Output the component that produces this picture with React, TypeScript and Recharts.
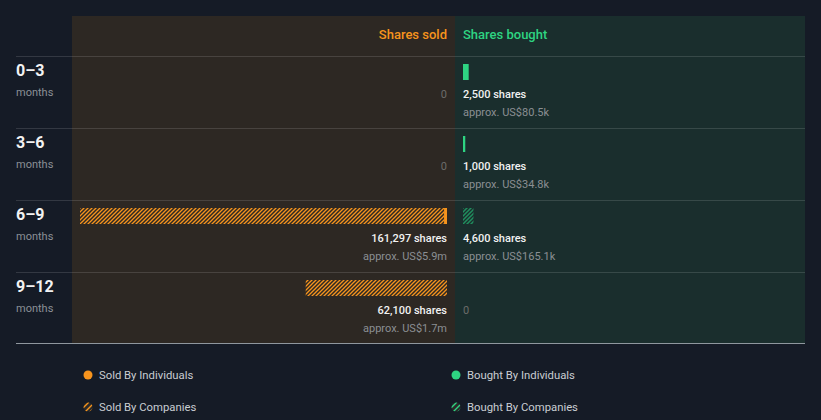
import React from "react";
import { BarChart, Bar, XAxis, YAxis } from "recharts";

const periods = ["0–3", "3–6", "6–9", "9–12"];
const soldIndividuals = [0, 0, 1297, 0];
const soldCompanies = [0, 0, 160000, 62100];
const boughtIndividuals = [2500, 1000, 0, 0];
const boughtCompanies = [0, 0, 4600, 0];
const soldValues = ["", "", "approx. US$5.9m", "approx. US$1.7m"];
const boughtValues = ["approx. US$80.5k", "approx. US$34.8k", "approx. US$165.1k", ""];

const soldData = periods.map((p, i) => ({ period: p, ind: soldIndividuals[i], comp: soldCompanies[i] }));
const boughtData = periods.map((p, i) => ({ period: p, ind: boughtIndividuals[i], comp: boughtCompanies[i] }));
const soldTotals = periods.map((_, i) => soldIndividuals[i] + soldCompanies[i]);
const boughtTotals = periods.map((_, i) => boughtIndividuals[i] + boughtCompanies[i]);

const BG = "#151b26";
const SOLD_BG = "#2d2823";
const BOUGHT_BG = "#1a2e2d";
const ORANGE = "#f7941d";
const GREEN = "#2ed482";
const GREEN_DARK = "#1f8f5e";
const FONT = "Roboto, 'Noto Sans', sans-serif";

const LEFT_W = 383;
const RIGHT_W = 350;
const PAD = 8;
const leftPlot = LEFT_W - 2 * PAD;
const rightPlot = RIGHT_W - 2 * PAD;
const maxShares = Math.max(...soldTotals, ...boughtTotals);
const rightMax = (maxShares * rightPlot) / leftPlot;

const fmt = (n: number) => n.toLocaleString("en-US");

function makeTick(side: "sold" | "bought") {
  return (props: any) => {
    const { x, y, payload } = props;
    const idx = periods.indexOf(payload.value);
    const totals = side === "sold" ? soldTotals : boughtTotals;
    const values = side === "sold" ? soldValues : boughtValues;
    const total = totals[idx];
    const anchor = side === "sold" ? "end" : "start";
    const y1 = y + 23;
    if (!total) {
      return (
        <text x={x} y={y1} textAnchor={anchor} dominantBaseline="middle" fontSize={11} fill="#6c6c6a" fontFamily={FONT}>
          0
        </text>
      );
    }
    return (
      <g>
        <text x={x} y={y1} textAnchor={anchor} dominantBaseline="middle" fontSize={11} fontWeight={500} fill="#f2f2f2" fontFamily={FONT}>
          {fmt(total)} shares
        </text>
        <text x={x} y={y1 + 18} textAnchor={anchor} dominantBaseline="middle" fontSize={11} fill="#8b8f93" fontFamily={FONT}>
          {values[idx]}
        </text>
      </g>
    );
  };
}

const Hatch = ({ id, color, sw }: { id: string; color: string; sw: number }) => (
  <defs>
    <pattern id={id} patternUnits="userSpaceOnUse" width="4" height="4">
      <path d="M-1,1 L1,-1 M0,4 L4,0 M3,5 L5,3" stroke={color} strokeWidth={sw} strokeLinecap="square" />
    </pattern>
  </defs>
);

const LegendIcon = ({ color, hatch }: { color: string; hatch?: boolean }) => (
  <svg width={10} height={10} style={{ display: "block" }}>
    {hatch ? (
      <g>
        <circle cx={5} cy={5} r={4.5} fill="#2a2a2a" />
        <clipPath id={"c" + color.slice(1)}>
          <circle cx={5} cy={5} r={4.5} />
        </clipPath>
        <g clipPath={`url(#c${color.slice(1)})`} stroke={color} strokeWidth={1.4}>
          <path d="M0,6 L6,0 M2,10 L10,2 M-2,4 L4,-2 M5,12 L12,5" />
        </g>
      </g>
    ) : (
      <circle cx={5} cy={5} r={4.5} fill={color} />
    )}
  </svg>
);

const LegendItem = ({ x, y, color, hatch, text }: any) => (
  <div style={{ position: "absolute", left: x, top: y - 5, display: "flex", alignItems: "center", height: 10 }}>
    <LegendIcon color={color} hatch={hatch} />
    <span style={{ marginLeft: 6, fontSize: 11.3, color: "#c9cdd2", fontFamily: FONT, whiteSpace: "nowrap" }}>{text}</span>
  </div>
);

export default function App() {
  const rowTops = periods.map((_, i) => 56 + i * 72);
  return (
    <div style={{ position: "absolute", left: 0, top: 0, width: 821, height: 420, background: BG, overflow: "hidden", fontFamily: FONT }}>
      <div style={{ position: "absolute", left: 72, top: 16, width: LEFT_W, height: 328, background: SOLD_BG }} />
      <div style={{ position: "absolute", left: 455, top: 16, width: RIGHT_W, height: 328, background: BOUGHT_BG }} />
      <div style={{ position: "absolute", right: 821 - 447, top: 27, fontSize: 13, fontWeight: 500, color: ORANGE, whiteSpace: "nowrap" }}>Shares sold</div>
      <div style={{ position: "absolute", left: 463, top: 27, fontSize: 13, fontWeight: 500, color: GREEN, whiteSpace: "nowrap" }}>Shares bought</div>
      {rowTops.map((t) => (
        <div key={t} style={{ position: "absolute", left: 16, top: t, width: 789, height: 1, background: "rgba(255,255,255,0.13)" }} />
      ))}
      <div style={{ position: "absolute", left: 16, top: 343, width: 789, height: 1, background: "#8f979e" }} />
      {periods.map((p, i) => (
        <div key={p}>
          <div style={{ position: "absolute", left: 16, top: rowTops[i] + 5, fontSize: 16, fontWeight: 700, color: "#f2f2f2", whiteSpace: "nowrap" }}>{p}</div>
          <div style={{ position: "absolute", left: 16, top: rowTops[i] + 30, fontSize: 11, color: "#8b9096", whiteSpace: "nowrap" }}>months</div>
        </div>
      ))}
      <div style={{ position: "absolute", left: 72, top: 36 }}>
        <BarChart width={LEFT_W} height={308} data={soldData} layout="vertical" margin={{ top: 0, right: PAD - 1, bottom: 20, left: PAD }}>
          <Hatch id="hatchSold" color={ORANGE} sw={1.3} />
          <XAxis type="number" hide reversed domain={[0, maxShares]} />
          <YAxis type="category" dataKey="period" orientation="right" width={1} axisLine={false} tickLine={false} tickSize={0} tickMargin={0} tick={makeTick("sold")} interval={0} />
          <Bar dataKey="ind" stackId="s" fill={ORANGE} barSize={16} isAnimationActive={false} />
          <Bar dataKey="comp" stackId="s" fill="url(#hatchSold)" barSize={16} isAnimationActive={false} />
        </BarChart>
      </div>
      <div style={{ position: "absolute", left: 455, top: 36 }}>
        <BarChart width={RIGHT_W} height={308} data={boughtData} layout="vertical" margin={{ top: 0, right: PAD, bottom: 20, left: PAD - 1 }}>
          <Hatch id="hatchBought" color={GREEN_DARK} sw={1.5} />
          <XAxis type="number" hide domain={[0, rightMax]} />
          <YAxis type="category" dataKey="period" orientation="left" width={1} axisLine={false} tickLine={false} tickSize={0} tickMargin={0} tick={makeTick("bought")} interval={0} />
          <Bar dataKey="ind" stackId="b" fill={GREEN} barSize={16} isAnimationActive={false} />
          <Bar dataKey="comp" stackId="b" fill="url(#hatchBought)" barSize={16} isAnimationActive={false} />
        </BarChart>
      </div>
      <LegendItem x={83} y={375} color={ORANGE} text="Sold By Individuals" />
      <LegendItem x={83} y={407} color={ORANGE} hatch text="Sold By Companies" />
      <LegendItem x={451} y={375} color={GREEN} text="Bought By Individuals" />
      <LegendItem x={451} y={407} color={GREEN} hatch text="Bought By Companies" />
    </div>
  );
}
